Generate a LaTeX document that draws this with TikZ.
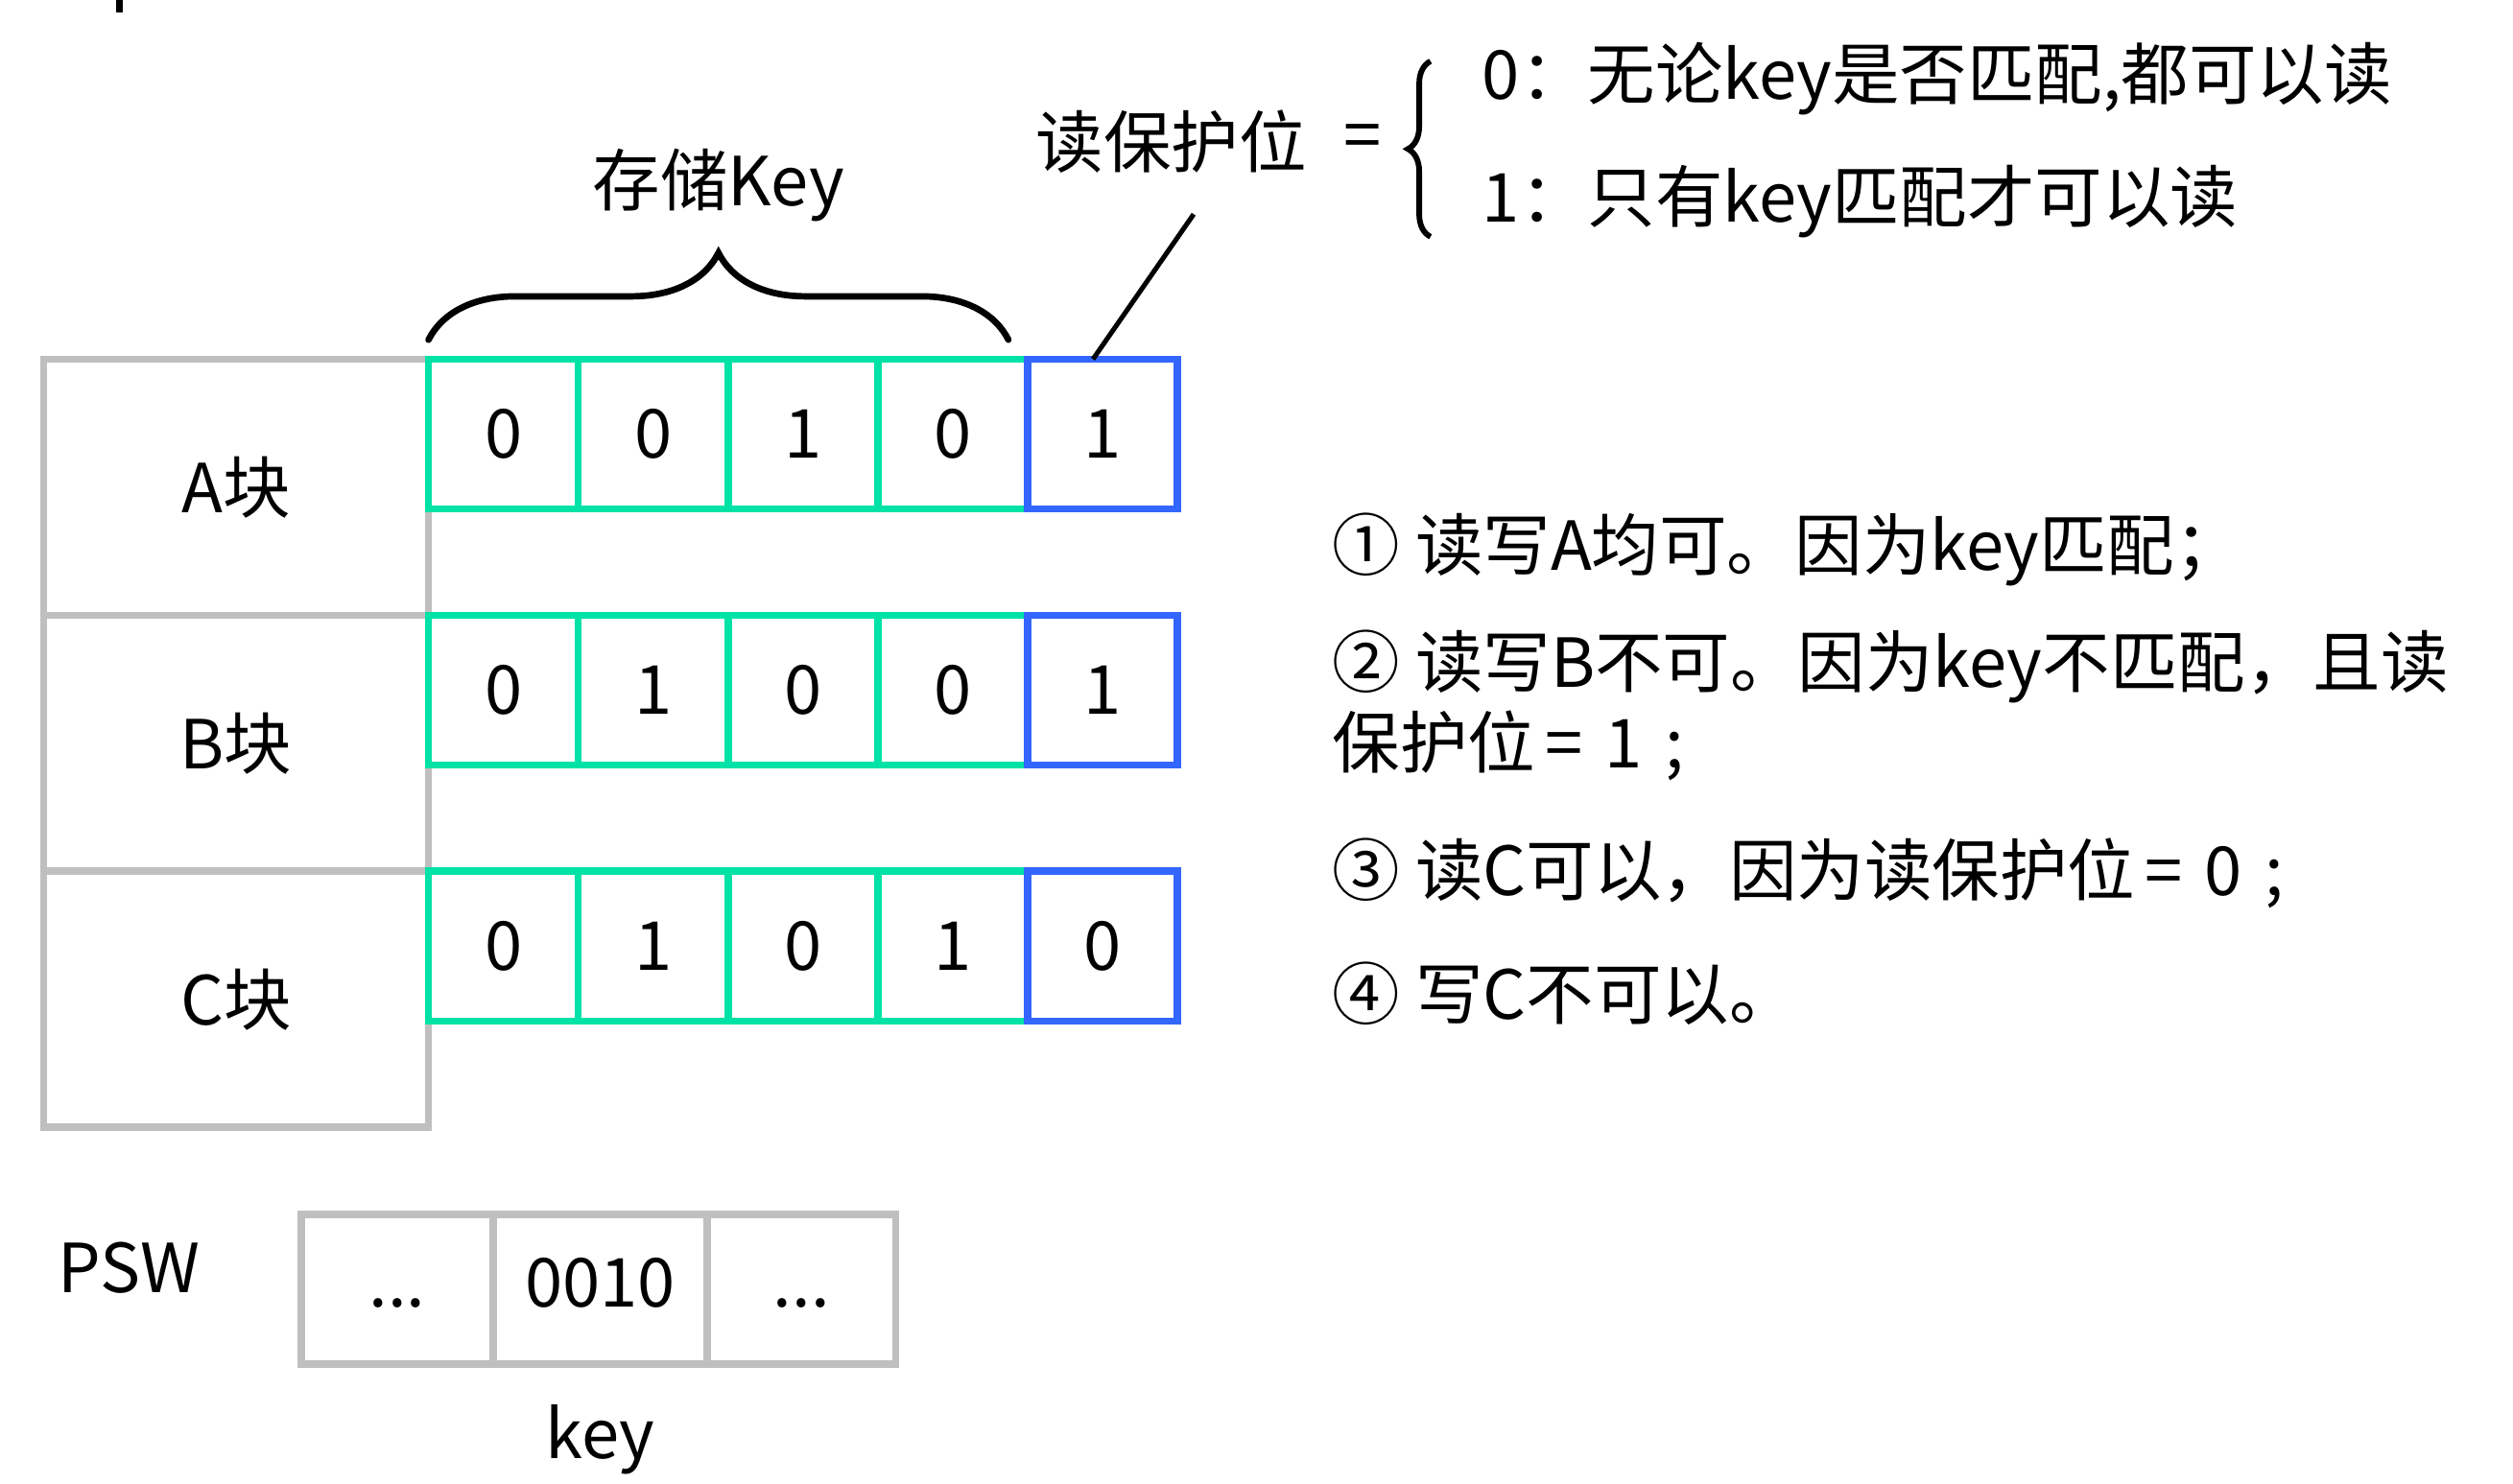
\documentclass[tikz,border=0pt]{standalone}
\usepackage{fontspec}
\usepackage{xcolor}
\usepackage{tikz}
\usetikzlibrary{positioning, calc, decorations.pathreplacing}
\newfontfamily\cjkfont{Noto Sans CJK SC}
\definecolor{keygreen}{HTML}{00E2A6}
\definecolor{protblue}{HTML}{3366FF}
\definecolor{cellgray}{HTML}{BFBFBF}

\begin{document}
\begin{tikzpicture}[x=1pt, y=-1pt, font=\cjkfont\fontsize{42}{50}\selectfont]
    \tikzstyle{blk} = [rectangle, draw=cellgray, line width=4.5pt, minimum width=239pt, minimum height=159pt,
      inner sep=0pt, outer sep=0pt]
    \tikzstyle{keybit} = [rectangle, draw=keygreen, line width=4.5pt, minimum width=93pt, minimum height=93pt,
      inner sep=0pt, outer sep=0pt]
    \tikzstyle{protbit} = [keybit, draw=protblue]
    \tikzstyle{pswcell} = [rectangle, draw=cellgray, line width=4.5pt, minimum height=93pt,
      text height=30pt, text depth=8pt, inner sep=0pt, outer sep=0pt]
    \tikzstyle{note} = [anchor=west, inner sep=0pt, align=left]

    \useasboundingbox (0,0) rectangle (1560,921);
    \draw [line width=4pt] (74,0) -- (74,8);

    \node (blkA) [blk] at (146.5,302.5) {A块};
    \node (blkB) [blk, below=0pt of blkA] {B块};
    \node (blkC) [blk, below=0pt of blkB] {C块};

    \foreach \r/\bits/\p in {A/{0,0,1,0}/1, B/{0,1,0,0}/1, C/{0,1,0,1}/0} {
      \foreach \b [count=\i] in \bits
        \node (bit\r\i) [keybit, anchor=north west] at ([xshift=93*(\i-1)]blk\r.north east) {\b};
      \node (prot\r) [protbit, right=0pt of bit\r4] {\p};
    }

    \draw [decorate, decoration={brace, amplitude=54pt}, line width=4pt, line cap=round]
      ([yshift=12]bitA1.north west) -- ([xshift=-12, yshift=12]bitA4.north east);
    \node (keylbl) at ($(bitA1.north west)!0.5!(bitA4.north east)+(-6,-108)$) {存储Key};

    \node (protlbl) at (727,88) {读保护位};
    \node (eqsign) at (846,88) {=};
    \draw [decorate, decoration={brace, amplitude=14pt}, line width=3.5pt]
      (888,147) -- (888,38);
    \node (case0) [note] at (920,49) {0：无论key是否匹配,都可以读};
    \node (case1) [note] at (920,125) {1：只有key匹配才可以读};
    \coordinate (lead) at (741,133);
    \draw [line width=3pt] (lead) -- ([xshift=-6]protA.north);

    \node (note1) [note] at (827,341) {① 读写A均可。因为key匹配；};
    \node (note2) [note, anchor=north west] at (827,391) {② 读写B不可。因为key不匹配，且读\\保护位\hspace{6pt}=\hspace{14pt}1\hspace{14pt};};
    \node (note3) [note] at (827,542) {③ 读C可以，因为读保护位\hspace{6pt}=\hspace{14pt}0\hspace{14pt};};
    \node (note4) [note] at (827,617) {④ 写C不可以。};

    \node (pswlbl) at (80,787) {PSW};
    \node (psw1) [pswcell, minimum width=119pt, anchor=north west] at (187,754) {...};
    \node (psw2) [pswcell, minimum width=133pt, right=0pt of psw1] {0010};
    \node (psw3) [pswcell, minimum width=117pt, right=0pt of psw2] {...};
    \node (keytxt) [below=22pt of psw2] {key};
\end{tikzpicture}
\end{document}
